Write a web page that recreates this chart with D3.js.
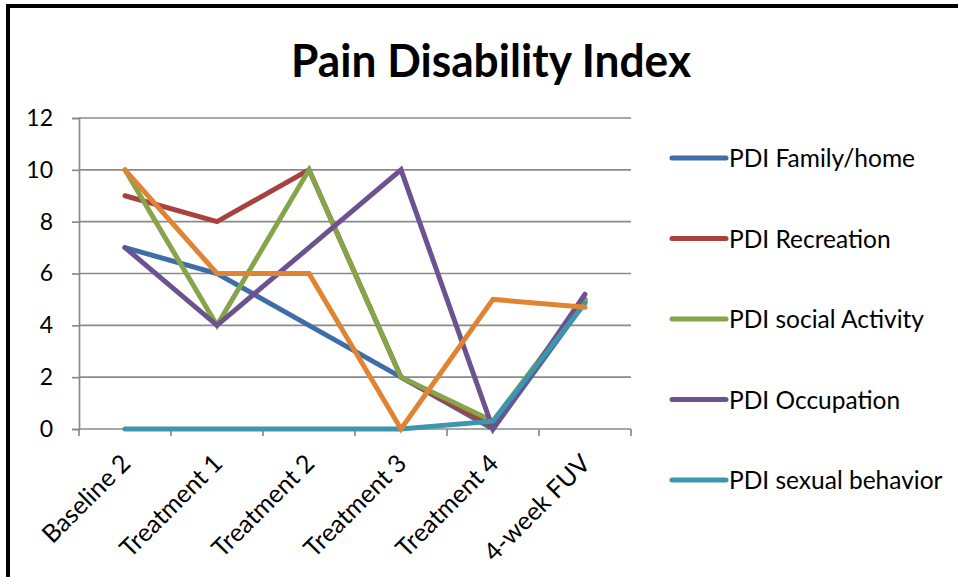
<!DOCTYPE html>
<html>
<head>
<meta charset="utf-8">
<script src="https://cdn.jsdelivr.net/npm/d3@7"></script>
<style>
  html, body { margin: 0; padding: 0; background: #fff; }
  svg { display: block; }
  text { font-family: Lato, "Open Sans", sans-serif; fill: #000; }
</style>
</head>
<body>
<svg id="chart" width="958" height="577"></svg>
<script>
const categories = ["Baseline 2", "Treatment 1", "Treatment 2", "Treatment 3", "Treatment 4", "4-week FUV"];
const seriesNames = ["PDI Family/home", "PDI Recreation", "PDI social Activity", "PDI Occupation", "PDI sexual behavior", "PDI Self care"];
const familyHome     = [7, 6, 4, 2, 0, 4.9];
const recreation     = [9, 8, 10, 2, 0.1, 5.0];
const socialActivity = [10, 4, 10, 2, 0.3, 5.0];
const occupation     = [7, 4, 7, 10, 0, 5.2];
const sexualBehavior = [0, 0, 0, 0, 0.3, 4.85];
const selfCare       = [10, 6, 6, 0, 5, 4.7];
const seriesColors = ["#3E6DA8", "#A8423F", "#86A44A", "#6C5290", "#3D96AE", "#DF8433"];
const legendCount = 5;
const yTicks = [0, 2, 4, 6, 8, 10, 12];
const title = "Pain Disability Index";

const seriesValues = [familyHome, recreation, socialActivity, occupation, sexualBehavior, selfCare];
const series = seriesNames.map((name, i) => ({ name, color: seriesColors[i], values: seriesValues[i] }));

const svg = d3.select("#chart");

// outer frame
svg.append("rect")
  .attr("x", 8).attr("y", 6).attr("width", 1100).attr("height", 700)
  .attr("fill", "none").attr("stroke", "#000").attr("stroke-width", 4);

const plotLeft = 79, plotRight = 631, plotTop = 118, plotBottom = 429;

const x = d3.scaleBand().domain(categories).range([plotLeft, plotRight]).paddingInner(0).paddingOuter(0);
const y = d3.scaleLinear().domain([0, 12]).range([plotBottom, plotTop]);

// title
svg.append("text")
  .attr("x", 491).attr("y", 77)
  .attr("text-anchor", "middle")
  .attr("font-weight", 700)
  .attr("font-size", 45)
  .attr("textLength", 400)
  .attr("lengthAdjust", "spacingAndGlyphs")
  .text(title);

// gridlines
svg.append("g").selectAll("line").data(yTicks.filter(d => d !== 0)).join("line")
  .attr("x1", plotLeft).attr("x2", plotRight)
  .attr("y1", d => y(d)).attr("y2", d => y(d))
  .attr("stroke", "#8A8A8A").attr("stroke-width", 1.7);

// y axis
const yAxis = svg.append("g")
  .attr("transform", `translate(${plotLeft},0)`)
  .call(d3.axisLeft(y).tickValues(yTicks).tickSize(7).tickPadding(19).tickFormat(d3.format("d")));
yAxis.select(".domain").attr("stroke", "#8A8A8A").attr("stroke-width", 1.7);
yAxis.selectAll(".tick line").attr("stroke", "#8A8A8A").attr("stroke-width", 1.7);
yAxis.selectAll(".tick text").attr("font-size", 23).attr("font-family", "Lato, sans-serif").attr("fill", "#000");

// x axis: ticks at band boundaries
const boundaries = categories.map(c => x(c)).concat([x(categories[categories.length - 1]) + x.bandwidth()]);
const xAxis = svg.append("g");
xAxis.append("line")
  .attr("x1", plotLeft).attr("x2", plotRight).attr("y1", plotBottom).attr("y2", plotBottom)
  .attr("stroke", "#8A8A8A").attr("stroke-width", 1.7);
xAxis.selectAll("line.tk").data(boundaries).join("line").attr("class", "tk")
  .attr("x1", d => d).attr("x2", d => d)
  .attr("y1", plotBottom).attr("y2", plotBottom + 7)
  .attr("stroke", "#8A8A8A").attr("stroke-width", 1.7);
xAxis.selectAll("text").data(categories).join("text")
  .attr("transform", d => `translate(${x(d) + x.bandwidth() / 2 + 7},${plotBottom + 36}) rotate(-45)`)
  .attr("text-anchor", "end")
  .attr("font-size", 25)
  .text(d => d);

// lines
const line = d3.line()
  .x((d, i) => x(categories[i]) + x.bandwidth() / 2)
  .y(d => y(d));

svg.append("g").selectAll("path").data(series).join("path")
  .attr("d", d => line(d.values))
  .attr("fill", "none")
  .attr("stroke", d => d.color)
  .attr("stroke-width", 5)
  .attr("stroke-linejoin", "miter")
  .attr("stroke-linecap", "round");

// legend
const legend = svg.append("g").selectAll("g").data(series.slice(0, legendCount)).join("g")
  .attr("transform", (d, i) => `translate(672,${158 + i * 80.5})`);
legend.append("line")
  .attr("x1", 0).attr("x2", 54).attr("y1", 0).attr("y2", 0)
  .attr("stroke", d => d.color).attr("stroke-width", 5).attr("stroke-linecap", "round");
legend.append("text")
  .attr("x", 57).attr("y", 9)
  .attr("font-size", 24.5)
  .text(d => d.name);
</script>
</body>
</html>
